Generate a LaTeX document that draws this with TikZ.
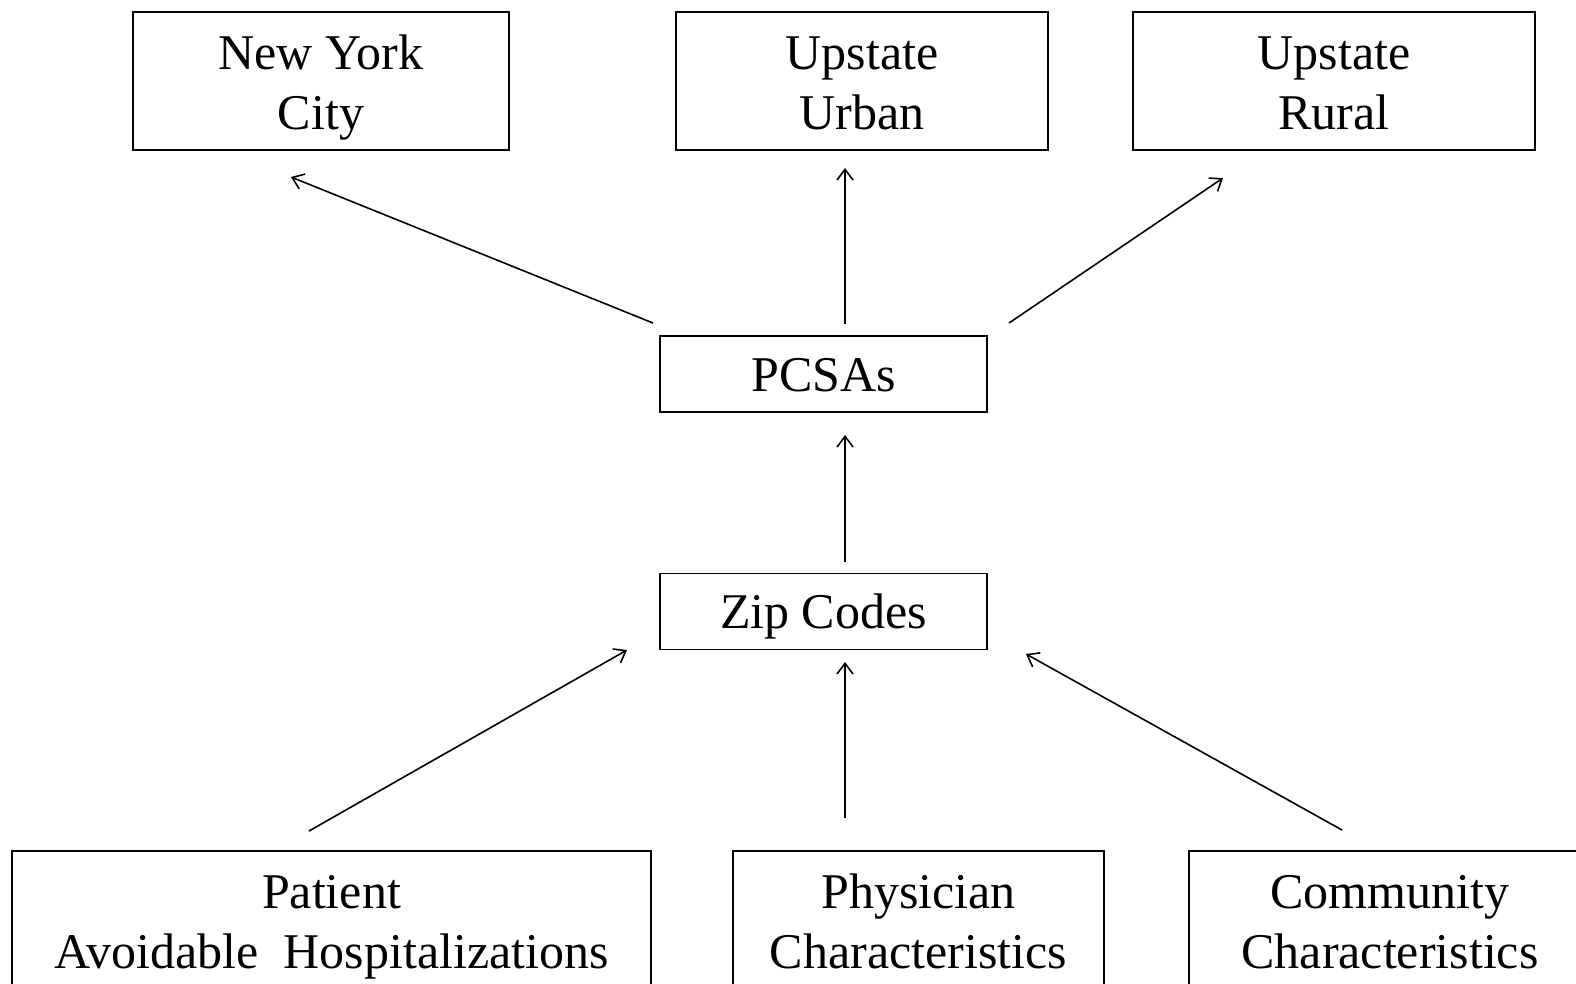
\documentclass[tikz,border=0pt]{standalone}
\usepackage{fontspec}
\setmainfont{Liberation Serif}
\usetikzlibrary{arrows.meta}
\begin{document}
\begin{tikzpicture}[x=0.75pt,y=-0.75pt,
  box/.style={draw,line width=1.2pt,inner sep=0pt,align=center,
    font=\fontsize{37.5}{45}\selectfont,text height=75pt,text depth=3pt,
    minimum height=103.5pt},
  sbox/.style={draw,line width=1.2pt,inner sep=0pt,align=center,
    font=\fontsize{37.5}{45}\selectfont,text height=25.5pt,text depth=0pt,
    minimum height=57pt,minimum width=245.25pt},
  arr/.style={line width=1.2pt,-{Straight Barb[length=8pt,width=12pt]}}]
\useasboundingbox (0,0) rectangle (1576,983);
\clip (0,0) rectangle (1576,983);
\node[box,minimum width=282pt] (nyc) at (321,81) {New York\\City};
\node[box,minimum width=279pt] (uu) at (862,81) {Upstate\\Urban};
\node[box,minimum width=301.5pt] (ur) at (1334,81) {Upstate\\Rural};
\node[sbox] (pcsa) at (823.5,374) {PCSAs};
\node[sbox] (zip) at (823.5,611.5) {Zip Codes};
\node[box,minimum width=479.25pt] (pat) at (331.5,920) {Patient\\Avoidable\ \ Hospitalizations};
\node[box,minimum width=278.25pt] (phy) at (918.5,920) {Physician\\Characteristics};
\node[box,minimum width=301.5pt] (com) at (1390,920) {Community\\Characteristics};
\coordinate (s1) at (653,323); \coordinate (e1) at (291,177);
\coordinate (s2) at (845,324); \coordinate (e2) at (845,168);
\coordinate (s3) at (1009,323); \coordinate (e3) at (1223,178);
\coordinate (s4) at (845,562); \coordinate (e4) at (845,435);
\coordinate (s5) at (309,831); \coordinate (e5) at (627,650);
\coordinate (s6) at (845,818); \coordinate (e6) at (845,662);
\coordinate (s7) at (1342,830); \coordinate (e7) at (1026,654);
\draw[arr] (s1) -- (e1);
\draw[arr] (s2) -- (e2);
\draw[arr] (s3) -- (e3);
\draw[arr] (s4) -- (e4);
\draw[arr] (s5) -- (e5);
\draw[arr] (s6) -- (e6);
\draw[arr] (s7) -- (e7);
\end{tikzpicture}
\end{document}
